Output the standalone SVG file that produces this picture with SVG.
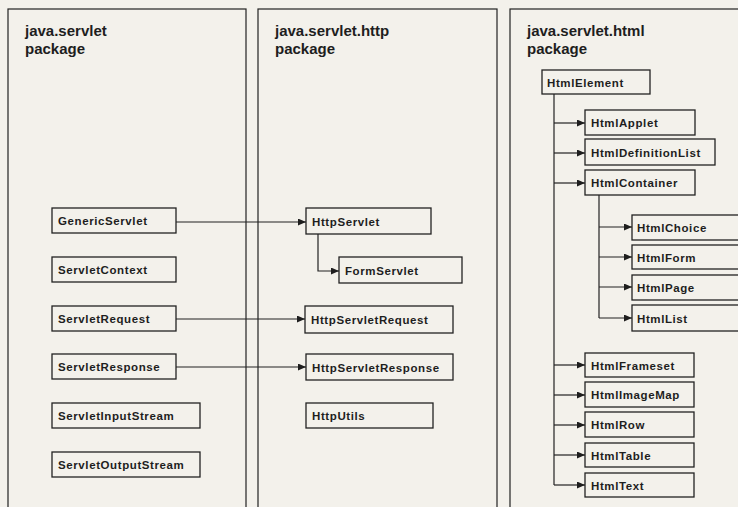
<svg xmlns="http://www.w3.org/2000/svg" width="738" height="507" viewBox="0 0 738 507">
  <defs>
    <marker id="arrow" markerUnits="userSpaceOnUse" markerWidth="9" markerHeight="8" refX="8" refY="3.5" orient="auto">
      <path d="M0,0 L8,3.5 L0,7 z" fill="#1e1e1e"/>
    </marker>
  </defs>
  <style>
    .pkg { fill: none; stroke: #222; stroke-width: 1.2; }
    .pkg-title { font-family: "Liberation Sans", Arial, sans-serif; font-weight: bold; font-size: 15px; fill: #1e1e1e; }
    .box { fill: none; stroke: #222; stroke-width: 1.3; }
    .label { font-family: "Liberation Sans", Arial, sans-serif; font-weight: bold; font-size: 11.5px; letter-spacing: 0.6px; fill: #1e1e1e; }
    .link { fill: none; stroke: #222; stroke-width: 1.2; }
    .arrow { marker-end: url(#arrow); }
  </style>

  <rect width="738" height="507" fill="#f3f1eb"/>

  <!-- package frames -->
  <g id="pkg-servlet">
    <rect class="pkg" x="8" y="9" width="238" height="520"/>
    <text class="pkg-title" x="25" y="36">java.servlet</text>
    <text class="pkg-title" x="25" y="54">package</text>
  </g>
  <g id="pkg-http">
    <rect class="pkg" x="258" y="9" width="239" height="520"/>
    <text class="pkg-title" x="275" y="36">java.servlet.http</text>
    <text class="pkg-title" x="275" y="54">package</text>
  </g>
  <g id="pkg-html">
    <rect class="pkg" x="510" y="9" width="260" height="520"/>
    <text class="pkg-title" x="527" y="36">java.servlet.html</text>
    <text class="pkg-title" x="527" y="54">package</text>
  </g>

  <!-- connectors -->
  <g id="connectors">
    <path class="link arrow" d="M176,222 H306"/>
    <path class="link arrow" d="M176,319 H305"/>
    <path class="link arrow" d="M176,367 H306"/>
    <path class="link arrow" d="M318,234 V271 H339"/>

    <path class="link" d="M554,94 V485"/>
    <path class="link arrow" d="M554,123 H585"/>
    <path class="link arrow" d="M554,153 H585"/>
    <path class="link arrow" d="M554,183 H585"/>
    <path class="link arrow" d="M554,365 H585"/>
    <path class="link arrow" d="M554,395 H585"/>
    <path class="link arrow" d="M554,425 H585"/>
    <path class="link arrow" d="M554,455 H585"/>
    <path class="link arrow" d="M554,485 H585"/>

    <path class="link" d="M599,195 V318"/>
    <path class="link arrow" d="M599,227 H632"/>
    <path class="link arrow" d="M599,257 H632"/>
    <path class="link arrow" d="M599,287 H632"/>
    <path class="link arrow" d="M599,318 H632"/>
  </g>

  <!-- java.servlet classes -->
  <g id="GenericServlet"><rect class="box" x="52" y="208" width="124" height="25"/><text class="label" x="58" y="225">GenericServlet</text></g>
  <g id="ServletContext"><rect class="box" x="52" y="257" width="124" height="25"/><text class="label" x="58" y="274">ServletContext</text></g>
  <g id="ServletRequest"><rect class="box" x="52" y="306" width="124" height="25"/><text class="label" x="58" y="323">ServletRequest</text></g>
  <g id="ServletResponse"><rect class="box" x="52" y="354" width="124" height="25"/><text class="label" x="58" y="371">ServletResponse</text></g>
  <g id="ServletInputStream"><rect class="box" x="52" y="403" width="148" height="25"/><text class="label" x="58" y="420">ServletInputStream</text></g>
  <g id="ServletOutputStream"><rect class="box" x="52" y="452" width="148" height="25"/><text class="label" x="58" y="469">ServletOutputStream</text></g>

  <!-- java.servlet.http classes -->
  <g id="HttpServlet"><rect class="box" x="306" y="208" width="125" height="26"/><text class="label" x="312" y="226">HttpServlet</text></g>
  <g id="FormServlet"><rect class="box" x="339" y="257" width="123" height="26"/><text class="label" x="345" y="275">FormServlet</text></g>
  <g id="HttpServletRequest"><rect class="box" x="305" y="306" width="148" height="27"/><text class="label" x="311" y="324">HttpServletRequest</text></g>
  <g id="HttpServletResponse"><rect class="box" x="306" y="354" width="147" height="26"/><text class="label" x="312" y="372">HttpServletResponse</text></g>
  <g id="HttpUtils"><rect class="box" x="306" y="403" width="127" height="25"/><text class="label" x="312" y="420">HttpUtils</text></g>

  <!-- java.servlet.html classes -->
  <g id="HtmlElement"><rect class="box" x="542" y="70" width="108" height="24"/><text class="label" x="547" y="87">HtmlElement</text></g>
  <g id="HtmlApplet"><rect class="box" x="585" y="110" width="110" height="25"/><text class="label" x="591" y="127">HtmlApplet</text></g>
  <g id="HtmlDefinitionList"><rect class="box" x="585" y="139" width="130" height="26"/><text class="label" x="591" y="157">HtmlDefinitionList</text></g>
  <g id="HtmlContainer"><rect class="box" x="585" y="170" width="110" height="25"/><text class="label" x="591" y="187">HtmlContainer</text></g>
  <g id="HtmlChoice"><rect class="box" x="632" y="215" width="120" height="25"/><text class="label" x="637" y="232">HtmlChoice</text></g>
  <g id="HtmlForm"><rect class="box" x="632" y="245" width="120" height="24"/><text class="label" x="637" y="262">HtmlForm</text></g>
  <g id="HtmlPage"><rect class="box" x="632" y="275" width="120" height="25"/><text class="label" x="637" y="292">HtmlPage</text></g>
  <g id="HtmlList"><rect class="box" x="632" y="305" width="120" height="26"/><text class="label" x="637" y="323">HtmlList</text></g>
  <g id="HtmlFrameset"><rect class="box" x="585" y="353" width="109" height="24"/><text class="label" x="591" y="370">HtmlFrameset</text></g>
  <g id="HtmlImageMap"><rect class="box" x="585" y="382" width="109" height="25"/><text class="label" x="591" y="399">HtmlImageMap</text></g>
  <g id="HtmlRow"><rect class="box" x="585" y="412" width="109" height="25"/><text class="label" x="591" y="429">HtmlRow</text></g>
  <g id="HtmlTable"><rect class="box" x="585" y="443" width="109" height="24"/><text class="label" x="591" y="460">HtmlTable</text></g>
  <g id="HtmlText"><rect class="box" x="585" y="473" width="109" height="24"/><text class="label" x="591" y="490">HtmlText</text></g>
</svg>
